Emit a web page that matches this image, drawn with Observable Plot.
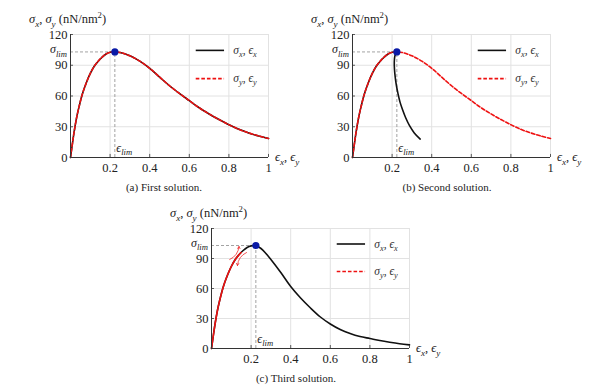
<!DOCTYPE html>
<html><head><meta charset="utf-8">
<script src="https://cdn.jsdelivr.net/npm/d3@7"></script>
<script src="https://cdn.jsdelivr.net/npm/@observablehq/plot@0.6"></script>
<style>
body{margin:0;background:#fff;}
#wrap{position:relative;width:600px;height:392px;overflow:hidden;font-family:"Liberation Serif",serif;background:#fff;}
.panel{position:absolute;}
.panel text{font-family:"Liberation Serif",serif;}
.cap{position:absolute;font-size:11px;color:#222;white-space:nowrap;transform:translate(-50%,-50%);font-family:"Liberation Serif",serif;}
</style></head><body><div id="wrap"></div>
<script>
// ---- data ----
const xTicks = [0.2, 0.4, 0.6, 0.8, 1];
const xTickLabels = ["0.2", "0.4", "0.6", "0.8", "1"];
const yTicks = [0, 30, 60, 90, 120];
const epsLim = 0.224;
const sigLim = 103;

// full softening law (first solution, sigma_y in second solution)
const epsA = [0,0.01,0.02,0.03,0.04,0.06,0.08,0.10,0.12,0.14,0.16,0.18,0.20,0.224,0.25,0.30,0.35,0.40,0.45,0.50,0.55,0.60,0.65,0.70,0.75,0.80,0.85,0.90,0.95,1.00];
const sigA = [0,14,27,38,47,62,73,82,89,94,98,101,102.6,103,102.5,99.2,94,87,78.5,70,62.5,55.5,48.5,42.5,37,32,27.5,24,21,18.5];

// second solution, sigma_x branch after the limit point (snap-back)
const epsB = [0.224,0.214,0.211,0.212,0.216,0.222,0.230,0.240,0.252,0.268,0.288,0.312,0.342];
const sigB = [103,99,93,86,78,70,62,54,47,39,31,24,18];

// third solution, sigma_x softening after the limit point
const epsC = [0.224,0.25,0.275,0.30,0.35,0.40,0.45,0.50,0.55,0.60,0.65,0.70,0.75,0.80,0.85,0.90,0.95,1.00];
const sigC = [103,100,95,89,76,62,50.5,40.5,31.5,24.5,19,15,12,10,8,6.3,4.8,3.6];

// third solution, sigma_y unloading part
const epsYc = [0,0.01,0.02,0.03,0.04,0.06,0.08,0.10,0.12,0.14,0.15];
const sigYc = [0,14,27,38,47,62,73,82,89,94,96];

// loading / unloading arrows (third solution)
const arrowX1 = [0.092, 0.177];
const arrowY1 = [89, 96];
const arrowX2 = [0.139, 0.131];
const arrowY2 = [102, 83];

// legend
const legendNames = [["x"], ["y"]];
const legendY = [104.5, 77];
const legendX = [0.635, 0.778, 0.825];

const pts = (xs, ys) => xs.map((x, i) => ({x, y: ys[i]}));
const upTo = (xs, ys, lim) => pts(xs, ys).filter(d => d.x <= lim);

const BLACK = "#111", RED = "#ee1111", DASH = "3.6,2";
const SERIF = "'Liberation Serif', serif";

function mtext(g, x, y, parts, size, anchor, fill) {
  const t = g.append("text").attr("x", x).attr("y", y)
    .attr("text-anchor", anchor || "start").attr("fill", fill || "#222")
    .style("font-family", SERIF).style("font-size", size + "px");
  let shift = 0;
  for (const [s, kind] of parts) {
    const sp = t.append("tspan").text(s);
    let target = 0;
    if (kind === "sub") { target = size * 0.28; sp.style("font-size", (size * 0.72) + "px").attr("font-style", "italic"); }
    else if (kind === "sup") { target = -size * 0.38; sp.style("font-size", (size * 0.7) + "px"); }
    else if (kind === "i") { sp.attr("font-style", "italic"); }
    if (target !== shift) { sp.attr("dy", target - shift); shift = target; }
  }
  return t;
}

const wrap = document.getElementById("wrap");

function panel(o) {
  const marks = [
    Plot.gridX(xTicks, {stroke: "#e2e2e2", strokeOpacity: 1}),
    Plot.gridY(yTicks.filter(d => d > 0), {stroke: "#e2e2e2", strokeOpacity: 1}),
    Plot.ruleY([sigLim], {x1: 0, x2: epsLim, stroke: "#999", strokeDasharray: "3,2", strokeWidth: 0.9}),
    Plot.ruleX([epsLim], {y1: 0, y2: sigLim, stroke: "#999", strokeDasharray: "3,2", strokeWidth: 0.9}),
    ...o.lines.map(l => Plot.line(l.data, {x: "x", y: "y", stroke: l.stroke, strokeWidth: 1.6, strokeDasharray: l.dash || null, curve: "catmull-rom"})),
    ...(o.extra || []),
    Plot.dot([{x: epsLim, y: sigLim}], {x: "x", y: "y", r: 3.6, fill: "#0a1aa6", stroke: "none"}),
    // legend samples
    Plot.ruleY([legendY[0]], {x1: legendX[0], x2: legendX[1], stroke: BLACK, strokeWidth: 1.6}),
    Plot.ruleY([legendY[1]], {x1: legendX[0], x2: legendX[1], stroke: RED, strokeWidth: 1.6, strokeDasharray: DASH}),
    // inward ticks
    Plot.ruleX(xTicks, {y1: 0, y2: 3, stroke: "#333", strokeWidth: 0.8}),
    Plot.ruleY(yTicks, {x1: 0, x2: 0.015, stroke: "#333", strokeWidth: 0.8}),
    Plot.ruleX([0], {stroke: "#333", strokeWidth: 1}),
    Plot.ruleY([0], {stroke: "#333", strokeWidth: 1}),
    Plot.axisX(xTicks, {tickSize: 0, tickPadding: 6, tickFormat: (d, i) => xTickLabels[i], fill: "#222", fontSize: 12.5}),
    Plot.axisY(yTicks, {tickSize: 0, tickPadding: 3, fill: "#222", fontSize: 12.5})
  ];
  const svg = Plot.plot({
    width: o.width, height: o.height,
    marginLeft: o.mL, marginRight: o.mR, marginTop: o.mT, marginBottom: o.mB,
    x: {domain: [0, 1], label: null},
    y: {domain: [0, 120], label: null},
    style: {fontFamily: SERIF, fontSize: "12.5px", color: "#222", background: "transparent", overflow: "visible"},
    marks
  });
  svg.classList.add("panel");
  svg.style.left = o.left + "px";
  svg.style.top = o.top + "px";
  wrap.appendChild(svg);
  d3.select(svg).selectAll("g[aria-label$='tick label'] text")
    .style("font-size", "12.5px").style("font-family", SERIF);
  const sx = svg.scale("x"), sy = svg.scale("y");
  const g = d3.select(svg).append("g");
  const X = v => sx.apply(v), Y = v => sy.apply(v);
  // y axis label
  mtext(g, X(0) - 41, Y(120) - 11, [["σ","i"],["x","sub"],[", ","n"],["σ","i"],["y","sub"],[" (nN/nm","n"],["2","sup"],[")","n"]], 12.5);
  // x axis label
  mtext(g, X(1) + 7, Y(0) + 4, [["ϵ","i"],["x","sub"],[", ","n"],["ϵ","i"],["y","sub"]], 12.5);
  // sigma_lim tick label
  mtext(g, X(0) - 3, Y(sigLim) + 2, [["σ","i"],["lim","sub"]], 12, "end");
  // eps_lim label
  mtext(g, X(epsLim) + 2, Y(0) - 5, [["ϵ","i"],["lim","sub"]], 12);
  // legend labels
  legendNames.forEach((n, i) => {
    mtext(g, X(legendX[2]), Y(legendY[i]) + 4, [["σ","i"],[n[0],"sub"],[", ","n"],["ϵ","i"],[n[0],"sub"]], 11.5, "start", "#333");
  });
  const cap = document.createElement("div");
  cap.className = "cap";
  cap.textContent = o.caption;
  cap.style.left = o.capX + "px";
  cap.style.top = o.capY + "px";
  wrap.appendChild(cap);
}

panel({
  left: 0, top: 0, width: 300, height: 180, mL: 70, mR: 32, mT: 34, mB: 23,
  lines: [
    {data: pts(epsA, sigA), stroke: BLACK},
    {data: pts(epsA, sigA), stroke: RED, dash: DASH}
  ],
  caption: "(a) First solution.", capX: 164, capY: 187
});

panel({
  left: 300, top: 0, width: 300, height: 180, mL: 52, mR: 50, mT: 34, mB: 23,
  lines: [
    {data: upTo(epsA, sigA, epsLim), stroke: BLACK},
    {data: pts(epsB, sigB), stroke: BLACK},
    {data: pts(epsA, sigA), stroke: RED, dash: DASH}
  ],
  caption: "(b) Second solution.", capX: 447, capY: 187
});

panel({
  left: 150, top: 195, width: 300, height: 175, mL: 61, mR: 41, mT: 33, mB: 22,
  lines: [
    {data: upTo(epsA, sigA, epsLim).concat(pts(epsC, sigC).slice(1)), stroke: BLACK},
    {data: pts(epsYc, sigYc), stroke: RED, dash: "5,0.8"}
  ],
  extra: [
    Plot.arrow(arrowX1.map((x, i) => ({x1: x, y1: arrowY1[i], x2: arrowX2[i], y2: arrowY2[i]})),
      {x1: "x1", y1: "y1", x2: "x2", y2: "y2", bend: -30, stroke: RED, strokeWidth: 0.7, headLength: 5})
  ],
  caption: "(c) Third solution.", capX: 296, capY: 378
});
</script>
</body></html>
